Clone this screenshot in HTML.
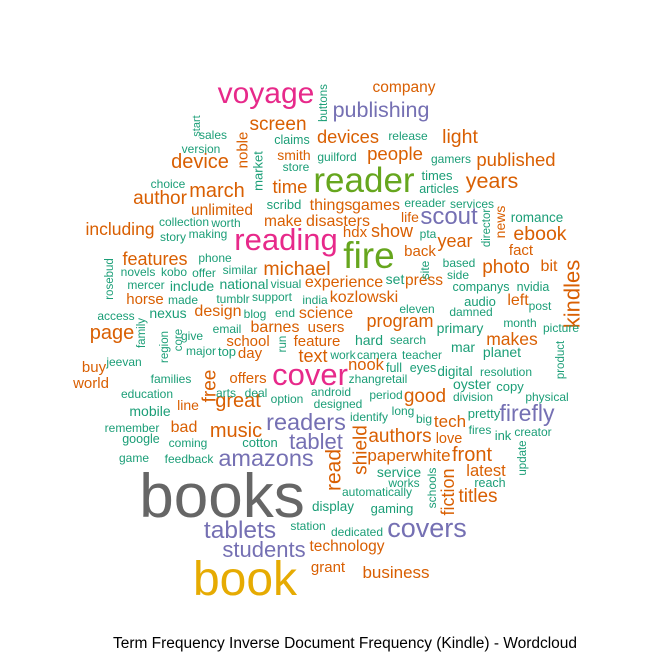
<!DOCTYPE html>
<html><head><meta charset="utf-8"><style>
html,body{margin:0;padding:0;background:#fff}
svg{display:block}
text{font-family:"Liberation Sans",Arial,sans-serif}
</style></head><body>
<svg id="cloud" width="653" height="653" viewBox="0 0 653 653" xmlns="http://www.w3.org/2000/svg">
<rect width="653" height="653" fill="#fff"/>
<g id="words"></g>
<text x="345" y="648" text-anchor="middle" font-size="15.5" textLength="464" fill="#000">Term Frequency Inverse Document Frequency (Kindle) - Wordcloud</text>
</svg>
<script>
const palette=["#1b9e77","#d95f02","#7570b3","#e7298a","#66a61e","#e6ab02","#666666"];
const words=["books","book","cover","reading","fire","reader","voyage","publishing","scout","amazons","readers","tablet","tablets","students","covers","firefly","kindles","ebook","years","published","light","company","devices","people","screen","device","march","author","time","unlimited","things","make","disasters","games","including","features","michael","show","hdx","year","back","fact","photo","bit","press","experience","kozlowski","left","page","design","science","program","barnes","users","school","feature","makes","day","text","nook","buy","world","offers","free","great","good","line","bad","music","authors","tech","love","shield","read","front","paperwhite","latest","fiction","titles","technology","grant","business","noble","smith","life","news","horse","buttons","start","sales","version","claims","guilford","store","market","choice","release","gamers","times","articles","ereader","services","scribd","collection","worth","story","making","pta","director","romance","site","based","side","set","companys","nvidia","audio","eleven","damned","post","month","picture","primary","phone","similar","novels","kobo","offer","rosebud","mercer","include","national","visual","made","tumblr","support","india","access","nexus","blog","end","family","region","core","give","email","major","top","run","jeevan","families","education","arts","deal","option","android","designed","hard","search","work","camera","teacher","mar","planet","product","full","eyes","digital","resolution","zhangretail","oyster","copy","period","division","physical","identify","long","big","pretty","fires","ink","creator","update","mobile","remember","google","coming","cotton","game","feedback","service","works","reach","schools","automatically","display","gaming","station","dedicated"];
const sizes=[62,48,31,31,37,35,30,21.5,24,23.5,23.5,22,24.5,22,27,23,22,19.5,21.5,18.5,19.5,15.5,18.3,18.6,19,20,20,19,18.5,15.5,16,15.5,16,16,17.5,18,19.5,18,15,18,15,15,19,16,15.5,16,16,16,20,16,16,18,16,15,15,15,17.5,15,18,16.5,15,15,15,19,20,19,14,16,20,19,17,14.5,19,21,20,17,16.5,18,19,15.5,15,17,15,14,14,14,15,11.5,11,12,12,12.5,12,12,13,12,12,12,13,12.5,12,12,13,12,12,12,12,12,11.5,13.5,12,12,12,14,12.5,12.5,13,12,12,12,12,12,14,12,12,12,12,12,11.5,12,14,14,12,12,12,12,12,12,14,12,12,11.5,11.5,11.5,12,12,12,13,11.5,12,12,12,12,12,12,12,12,14,12,12,12,12,14,14,11.5,12.5,12.5,13.5,12,12,14,13,12,12,12,12,12,12,13,12,13,12,11.5,14,12,12.5,12,13,12,12,14,12,12.5,12,12,13.5,13,12,12];
const colors=[6,5,3,3,4,4,3,2,2,2,2,2,2,2,2,2,1,1,1,1,1,1,1,1,1,1,1,1,1,1,1,1,1,1,1,1,1,1,1,1,1,1,1,1,1,1,1,1,1,1,1,1,1,1,1,1,1,1,1,1,1,1,1,1,1,1,1,1,1,1,1,1,1,1,1,1,1,1,1,1,1,1,1,1,1,1,1,0,0,0,0,0,0,0,0,0,0,0,0,0,0,0,0,0,0,0,0,0,0,0,0,0,0,0,0,0,0,0,0,0,0,0,0,0,0,0,0,0,0,0,0,0,0,0,0,0,0,0,0,0,0,0,0,0,0,0,0,0,0,0,0,0,0,0,0,0,0,0,0,0,0,0,0,0,0,0,0,0,0,0,0,0,0,0,0,0,0,0,0,0,0,0,0,0,0,0,0,0,0,0,0,0,0,0,0,0,0,0,0,0];
const posX=[222,245,310,286,369,364,266,381,449,266,306,316,240,264,427,527,572,540,492,516,460,404,348,395,278,200,217,160,290,222,331,283,338,376,120,155,297,392,355,455,420,521,506,549,424,344,364,518,112,218,326,400,275,326,248,317,512,250,313,366,94,91,248,210,238,425,188,184,236,400,450,449,361,334,472,409,486,448,478,347,328,396,243,294,410,500,145,324,197,213,201,292,337,296,258,168,408,451,437,439,425,472,284,184,226,173,208,428,487,537,425,459,458,395,481,533,480,417,471,540,520,561,460,215,240,138,174,204,110,146,192,244,286,183,233,272,315,116,168,255,285,142,165,179,192,227,201,227,283,124,171,147,226,256,287,331,338,369,408,343,377,422,463,502,561,394,423,455,506,378,472,510,386,473,547,369,403,424,484,480,503,533,523,150,132,141,188,260,134,189,399,404,490,432,377,333,392,308,357];
const posY=[517,595,385,250,268,192,103,117,224,466,430,449,538,557,537,421,294,240,188,166,143,92,143,160,130,168,197,204,193,215,210,226,226,210,235,265,275,237,237,247,256,255,273,271,285,287,302,305,339,316,318,327,332,332,346,346,345,358,362,370,372,388,383,386,407,402,410,432,437,442,427,443,450,470,461,461,476,492,502,551,572,578,150,160,222,222,304,103,126,139,153,144,161,171,171,188,140,163,180,193,207,208,209,226,227,241,238,238,228,222,270,267,279,284,291,291,306,313,316,310,327,332,333,262,274,276,276,277,279,289,291,289,288,304,303,301,304,320,318,318,317,333,347,340,340,333,355,356,344,366,383,398,397,397,403,396,408,345,344,359,359,359,352,357,360,372,372,376,376,383,389,391,399,401,401,421,415,423,418,434,440,436,458,416,432,443,447,447,462,463,477,487,487,488,496,511,513,530,536];
const rotated=new Set(["kindles","free","shield","read","fiction","noble","news","buttons","start","market","director","site","rosebud","family","region","core","run","product","update","schools"]);
const g=document.getElementById('words');
const NS="http://www.w3.org/2000/svg";
for(let i=0;i<words.length;i++){
  const t=document.createElementNS(NS,'text');
  t.textContent=words[i];
  t.setAttribute('text-anchor','middle');
  t.setAttribute('font-size',sizes[i]);
  t.setAttribute('fill',palette[colors[i]]);
  if(rotated.has(words[i])){
    t.setAttribute('x',0);t.setAttribute('y',0);
    t.setAttribute('dominant-baseline','central');
    t.setAttribute('transform','translate('+posX[i]+','+posY[i]+') rotate(-90)');
  } else {
    t.setAttribute('x',posX[i]);t.setAttribute('y',posY[i]);
  }
  
  
  g.appendChild(t);
}
</script>
</body></html>
